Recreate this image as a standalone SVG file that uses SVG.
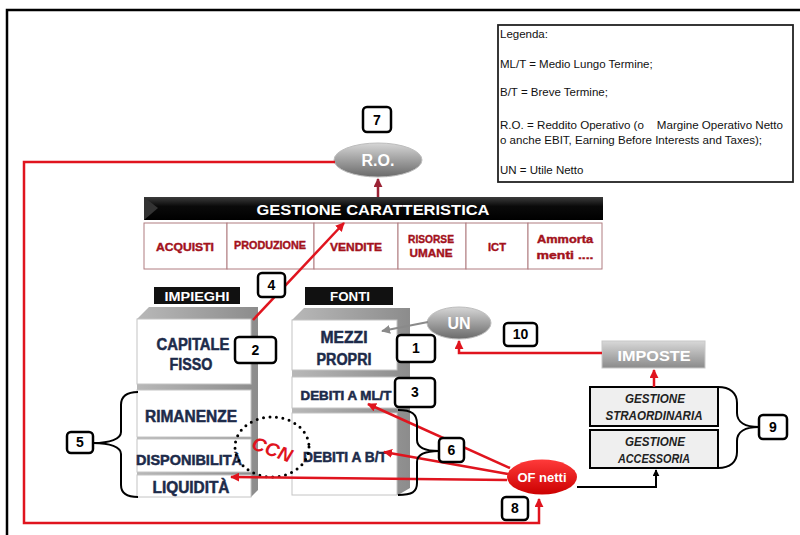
<svg xmlns="http://www.w3.org/2000/svg" width="800" height="535" viewBox="0 0 800 535">
<style>
.num rect{fill:#fff;stroke:#000;stroke-width:2.5}
.num text{font-family:"Liberation Sans",Arial,sans-serif;font-weight:bold;font-size:14px;text-anchor:middle;fill:#000}
.nv{font-family:"Liberation Sans",Arial,sans-serif;font-weight:bold;fill:#1d2b4a;stroke:#1d2b4a;stroke-width:0.5;text-anchor:middle}
.cl{font-family:"Liberation Sans",Arial,sans-serif;font-weight:bold;fill:#a3121c;stroke:#a3121c;stroke-width:0.4;text-anchor:middle;font-size:11px}
.wt{font-family:"Liberation Sans",Arial,sans-serif;font-weight:bold;fill:#fff;text-anchor:middle}
.it{font-family:"Liberation Sans",Arial,sans-serif;font-weight:bold;font-style:italic;fill:#222;text-anchor:middle;font-size:12px}
.lg{font-family:"Liberation Sans",Arial,sans-serif;font-size:11.5px;fill:#111;white-space:pre}
.wb{fill:#fff;stroke:#c4c4c4;stroke-width:1}
.cell{fill:#fff;stroke:#b07c80;stroke-width:1}
.red{fill:none;stroke:#e0141e;stroke-width:2.5}
.brace{fill:none;stroke:#000;stroke-width:2}
</style>
<defs>
<linearGradient id="gEll" x1="0" y1="0" x2="0" y2="1"><stop offset="0" stop-color="#d6d6d6"/><stop offset="0.55" stop-color="#9a9a9a"/><stop offset="1" stop-color="#6a6a6a"/></linearGradient>
<linearGradient id="gRed" x1="0" y1="0" x2="0" y2="1"><stop offset="0" stop-color="#ff3a3a"/><stop offset="1" stop-color="#cc0000"/></linearGradient>
<linearGradient id="gBar" x1="0" y1="0" x2="0" y2="1"><stop offset="0" stop-color="#3c3c3c"/><stop offset="0.4" stop-color="#0a0a0a"/><stop offset="1" stop-color="#000"/></linearGradient>
<linearGradient id="gImp" x1="0" y1="0" x2="0" y2="1"><stop offset="0" stop-color="#d8d8d8"/><stop offset="1" stop-color="#8a8a8a"/></linearGradient>
<linearGradient id="gSide" x1="0" y1="0" x2="1" y2="0"><stop offset="0" stop-color="#b8b8b8"/><stop offset="1" stop-color="#8c8c8c"/></linearGradient>
<marker id="aR" viewBox="0 0 10 10" refX="9" refY="5" markerWidth="9" markerHeight="9" markerUnits="userSpaceOnUse" orient="auto"><path d="M0,0 L10,5 L0,10 z" fill="#e0141e"/></marker>
<marker id="aD" viewBox="0 0 10 10" refX="9" refY="5" markerWidth="9" markerHeight="9" markerUnits="userSpaceOnUse" orient="auto"><path d="M0,0 L10,5 L0,10 z" fill="#9b2335"/></marker>
<marker id="aG" viewBox="0 0 10 10" refX="9" refY="5" markerWidth="9" markerHeight="9" markerUnits="userSpaceOnUse" orient="auto"><path d="M0,0 L10,5 L0,10 z" fill="#8a8a8a"/></marker>
<marker id="aB" viewBox="0 0 10 10" refX="9" refY="5" markerWidth="7" markerHeight="7" markerUnits="userSpaceOnUse" orient="auto"><path d="M0,0 L10,5 L0,10 z" fill="#000"/></marker>
</defs>
<rect width="800" height="535" fill="#fff"/>
<path d="M7,535 V10 H800" fill="none" stroke="#000" stroke-width="2.5"/>

<g id="legenda">
<rect x="498" y="25" width="295" height="157" fill="#fff" stroke="#222" stroke-width="1.8"/>
<text class="lg" x="500" y="38">Legenda:</text>
<text class="lg" x="500" y="68">ML/T = Medio Lungo Termine;</text>
<text class="lg" x="500" y="96">B/T = Breve Termine;</text>
<text class="lg" x="500" y="129" textLength="283" lengthAdjust="spacingAndGlyphs">R.O. = Reddito Operativo (o    Margine Operativo Netto</text>
<text class="lg" x="500" y="144" textLength="262" lengthAdjust="spacingAndGlyphs">o anche EBIT, Earning Before Interests and Taxes);</text>
<text class="lg" x="500" y="174">UN = Utile Netto</text>
</g>

<g id="gestione-caratteristica">
<path d="M144,197 H603 V220 H144 Z" fill="url(#gBar)"/>
<path d="M144,197 L158,208 L144,220 Z" fill="#333"/>
<text class="wt" x="373" y="215" font-size="15" textLength="233" lengthAdjust="spacingAndGlyphs">GESTIONE CARATTERISTICA</text>
<rect class="cell" x="144" y="223" width="83" height="46"/>
<rect class="cell" x="227" y="223" width="87" height="46"/>
<rect class="cell" x="314" y="223" width="84" height="46"/>
<rect class="cell" x="398" y="223" width="68" height="46"/>
<rect class="cell" x="466" y="223" width="62" height="46"/>
<rect class="cell" x="528" y="223" width="74" height="46"/>
<text class="cl" x="185" y="251" textLength="58" lengthAdjust="spacingAndGlyphs">ACQUISTI</text>
<text class="cl" x="270" y="249" textLength="72" lengthAdjust="spacingAndGlyphs">PRODUZIONE</text>
<text class="cl" x="356" y="251" textLength="52" lengthAdjust="spacingAndGlyphs">VENDITE</text>
<text class="cl" x="431" y="243" textLength="46" lengthAdjust="spacingAndGlyphs">RISORSE</text>
<text class="cl" x="431" y="257" textLength="43" lengthAdjust="spacingAndGlyphs">UMANE</text>
<text class="cl" x="497" y="251" textLength="18" lengthAdjust="spacingAndGlyphs">ICT</text>
<text class="cl" x="565" y="243" font-size="12" textLength="56" lengthAdjust="spacingAndGlyphs">Ammorta</text>
<text class="cl" x="565" y="259" font-size="12" textLength="57" lengthAdjust="spacingAndGlyphs">menti ....</text>
</g>

<g id="ro">
<ellipse cx="378" cy="160" rx="44" ry="17" fill="url(#gEll)" stroke="#bdbdbd" stroke-width="1"/>
<text class="wt" x="378" y="166" font-size="16">R.O.</text>
</g>

<g id="impieghi">
<rect x="154" y="287" width="86" height="17" fill="#111"/>
<text class="wt" x="197" y="301" font-size="12" textLength="65" lengthAdjust="spacingAndGlyphs">IMPIEGHI</text>
<path d="M137,319 L149,307 H258 V490 L251,497 H137 Z" fill="url(#gSide)"/>
<rect class="wb" x="137" y="319" width="114" height="65"/>
<rect class="wb" x="137" y="390" width="114" height="47"/>
<rect class="wb" x="137" y="439" width="114" height="33"/>
<rect class="wb" x="137" y="475" width="114" height="22"/>
<text class="nv" x="193" y="350" font-size="16" textLength="73" lengthAdjust="spacingAndGlyphs">CAPITALE</text>
<text class="nv" x="191" y="370" font-size="16" textLength="43" lengthAdjust="spacingAndGlyphs">FISSO</text>
<text class="nv" x="191" y="422" font-size="16" textLength="92" lengthAdjust="spacingAndGlyphs">RIMANENZE</text>
<text class="nv" x="189" y="465" font-size="15" textLength="106" lengthAdjust="spacingAndGlyphs">DISPONIBILITÀ</text>
<text class="nv" x="191" y="493" font-size="16" textLength="77" lengthAdjust="spacingAndGlyphs">LIQUIDITÀ</text>
</g>

<g id="fonti">
<rect x="305" y="287" width="88" height="18" fill="#111"/>
<text class="wt" x="350" y="301" font-size="12" textLength="40" lengthAdjust="spacingAndGlyphs">FONTI</text>
<path d="M292,320 L304,308 H410 V488 L398,495 H292 Z" fill="url(#gSide)"/>
<rect class="wb" x="292" y="320" width="105" height="50"/>
<rect class="wb" x="292" y="377" width="105" height="31"/>
<rect class="wb" x="292" y="413" width="105" height="82"/>
<text class="nv" x="344" y="343" font-size="16" textLength="47" lengthAdjust="spacingAndGlyphs">MEZZI</text>
<text class="nv" x="344" y="365" font-size="16" textLength="55" lengthAdjust="spacingAndGlyphs">PROPRI</text>
<text class="nv" x="346" y="400" font-size="12" textLength="91" lengthAdjust="spacingAndGlyphs">DEBITI A ML/T</text>
<text class="nv" x="345" y="462" font-size="14" textLength="84" lengthAdjust="spacingAndGlyphs">DEBITI A B/T</text>
</g>

<g id="ccn">
<ellipse cx="272" cy="447" rx="37" ry="30" fill="none" stroke="#000" stroke-width="3" stroke-linecap="round" stroke-dasharray="0 6.5"/>
<text x="272" y="456" transform="rotate(20 272 450)" font-family="Liberation Sans,Arial,sans-serif" font-weight="bold" font-style="italic" font-size="19" fill="#e0141e" text-anchor="middle">CCN</text>
</g>

<g id="un">
<ellipse cx="459" cy="323" rx="32" ry="16" fill="url(#gEll)" stroke="#bdbdbd" stroke-width="1"/>
<text class="wt" x="459" y="329" font-size="16">UN</text>
</g>

<g id="imposte">
<rect x="602" y="341" width="103" height="27" fill="url(#gImp)" stroke="#c8c8c8" stroke-width="1"/>
<text class="wt" x="654" y="361" font-size="15" textLength="73" lengthAdjust="spacingAndGlyphs">IMPOSTE</text>
</g>

<g id="gestione-straordinaria">
<rect x="590" y="387" width="128" height="39" fill="#efefef" stroke="#000" stroke-width="2"/>
<text class="it" x="655" y="403" textLength="60" lengthAdjust="spacingAndGlyphs">GESTIONE</text>
<text class="it" x="654" y="420" textLength="97" lengthAdjust="spacingAndGlyphs">STRAORDINARIA</text>
</g>
<g id="gestione-accessoria">
<rect x="590" y="430" width="128" height="38" fill="#efefef" stroke="#000" stroke-width="2"/>
<text class="it" x="655" y="446" textLength="60" lengthAdjust="spacingAndGlyphs">GESTIONE</text>
<text class="it" x="654" y="463" textLength="72" lengthAdjust="spacingAndGlyphs">ACCESSORIA</text>
</g>

<g id="connectors">
<path class="red" d="M335,162 H24 V523 H539 V499" marker-end="url(#aR)"/>
<path d="M378,197 V179" fill="none" stroke="#9b2335" stroke-width="2.5" marker-end="url(#aD)"/>
<path class="red" d="M253,320 L344,223" marker-end="url(#aR)"/>
<path d="M428,322 L382,331" fill="none" stroke="#8a8a8a" stroke-width="2" marker-end="url(#aG)"/>
<path class="red" d="M602,353 H459 V341" marker-end="url(#aR)"/>
<path class="red" d="M654,387 V370" marker-end="url(#aR)"/>
<path d="M577,487 H656 V470" fill="none" stroke="#000" stroke-width="2" marker-end="url(#aB)"/>
<path class="red" d="M510,468 L368,404" marker-end="url(#aR)"/>
<path class="red" d="M508,474 L384,452" marker-end="url(#aR)"/>
<path class="red" d="M507,480 L231,477" marker-end="url(#aR)"/>
<path class="brace" d="M398,410 C412,410 417,414 417,424 V440 C417,447 425,451 439,451 C425,451 417,455 417,462 V483 C417,492 412,495 398,495"/>
<path class="brace" d="M138,392 C126,392 121,397 121,405 V432 C121,439 110,443 93,443 C110,443 121,447 121,454 V485 C121,493 126,497 138,497"/>
<path class="brace" d="M718,387 C730,387 737,393 737,403 V413 C737,422 745,427 759,427 C745,427 737,432 737,441 V452 C737,462 730,468 718,468"/>
</g>

<g id="of-netti">
<ellipse cx="542" cy="477" rx="35" ry="17.5" fill="url(#gRed)"/>
<text class="wt" x="542" y="482" font-size="13" textLength="49" lengthAdjust="spacingAndGlyphs">OF netti</text>
</g>

<g id="n7" class="num"><rect x="363" y="107" width="28" height="25" rx="4"/><text x="377" y="125">7</text></g>
<g id="n4" class="num"><rect x="258" y="273" width="27" height="24" rx="4"/><text x="271.5" y="290">4</text></g>
<g id="n2" class="num"><rect x="235" y="337" width="41" height="26" rx="4"/><text x="255.5" y="355">2</text></g>
<g id="n1" class="num"><rect x="397" y="335" width="38" height="27" rx="4"/><text x="416" y="353">1</text></g>
<g id="n3" class="num"><rect x="395" y="378" width="40" height="29" rx="4"/><text x="415" y="397">3</text></g>
<g id="n10" class="num"><rect x="504" y="323" width="33" height="23" rx="4"/><text x="520.5" y="339">10</text></g>
<g id="n6" class="num"><rect x="439" y="438" width="25" height="24" rx="4"/><text x="451.5" y="455">6</text></g>
<g id="n5" class="num"><rect x="67" y="432" width="26" height="21" rx="4"/><text x="80" y="447">5</text></g>
<g id="n8" class="num"><rect x="502" y="497" width="26" height="23" rx="4"/><text x="515" y="513">8</text></g>
<g id="n9" class="num"><rect x="759" y="415" width="28" height="24" rx="4"/><text x="773" y="432">9</text></g>
</svg>
